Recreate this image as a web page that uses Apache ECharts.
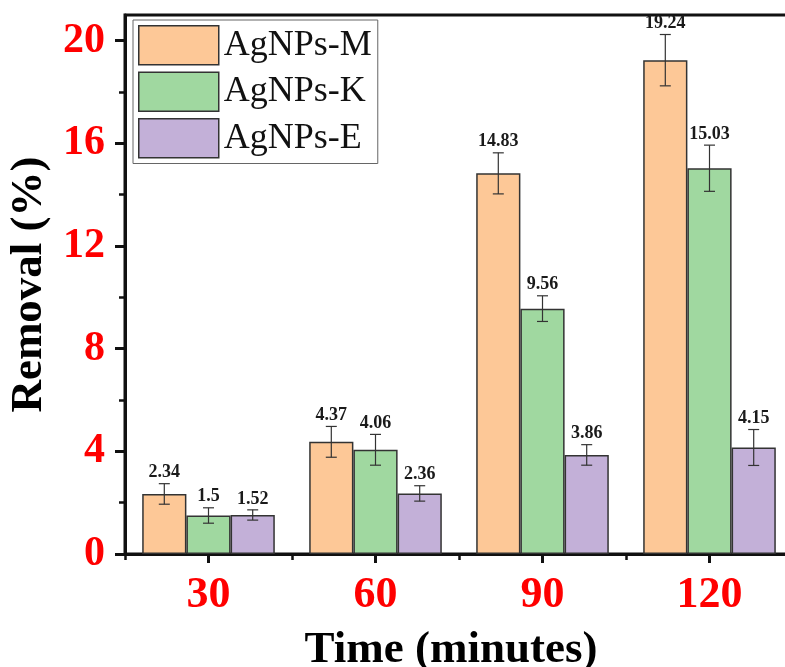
<!DOCTYPE html>
<html>
<head>
<meta charset="utf-8">
<script src="https://cdn.jsdelivr.net/npm/echarts@6/dist/echarts.min.js"></script>
<style>
html,body{margin:0;padding:0;background:#fff;}
#chart{width:785px;height:667px;}
</style>
</head>
<body>
<div id="chart"></div>
<script>
// ---- data ----
const categories = ['30', '60', '90', '120'];
const seriesNames = ['AgNPs-M', 'AgNPs-K', 'AgNPs-E'];
const valuesM = [2.34, 4.37, 14.83, 19.24];
const valuesK = [1.5, 4.06, 9.56, 15.03];
const valuesE = [1.52, 2.36, 3.86, 4.15];
const errorsM = [0.4, 0.6, 0.8, 1.0];
const errorsK = [0.3, 0.6, 0.5, 0.9];
const errorsE = [0.2, 0.3, 0.4, 0.7];
const yMajorTicks = [0, 4, 8, 12, 16, 20];
const yMinorTicks = [2, 6, 10, 14, 18];

const values = [valuesM, valuesK, valuesE];
const errors = [errorsM, errorsK, errorsE];
const colors = ['#FDC897', '#A0D8A0', '#C3B0D8'];
const CAT_GAP = 0.206;
const FONT = '"Liberation Serif", "Times New Roman", serif';

const chart = echarts.init(document.getElementById('chart'));

const barSeries = seriesNames.map((name, si) => ({
  name: name,
  type: 'bar',
  xAxisIndex: 0,
  yAxisIndex: 0,
  barGap: '0%',
  barCategoryGap: (CAT_GAP * 100) + '%',
  data: values[si],
  itemStyle: { color: colors[si], borderColor: '#333', borderWidth: 1.5 },
  emphasis: { disabled: true },
  z: 2
}));

const errSeries = seriesNames.map((name, si) => ({
  name: name + '-err',
  type: 'custom',
  xAxisIndex: 0,
  yAxisIndex: 0,
  data: values[si].map((v, i) => [i, v, errors[si][i]]),
  z: 5,
  silent: true,
  renderItem: function (params, api) {
    const ci = api.value(0), v = api.value(1), e = api.value(2);
    const c = api.coord([ci, v]);
    const bandW = api.size([1, 0])[0];
    const barW = bandW * (1 - CAT_GAP) / 3;
    const x = c[0] + (si - 1) * barW;
    const yTop = api.coord([ci, v + e])[1];
    const yBot = api.coord([ci, v - e])[1];
    const cap = 5.5;
    const ls = { stroke: '#333', lineWidth: 1.2 };
    return {
      type: 'group',
      children: [
        { type: 'line', shape: { x1: x, y1: yTop, x2: x, y2: yBot }, style: ls },
        { type: 'line', shape: { x1: x - cap, y1: yTop, x2: x + cap, y2: yTop }, style: ls },
        { type: 'line', shape: { x1: x - cap, y1: yBot, x2: x + cap, y2: yBot }, style: ls },
        { type: 'text', style: {
            text: String(v), x: x, y: yTop - 2,
            textAlign: 'center', textVerticalAlign: 'bottom',
            font: 'bold 18px ' + FONT, fill: '#1a1a1a'
          } }
      ]
    };
  }
}));

const option = {
  backgroundColor: '#fff',
  animation: false,
  grid: {
    left: 125, top: 15, width: 668, height: 539,
    containLabel: false,
    outerBoundsMode: 'none',
    show: true, borderColor: '#111', borderWidth: 3, backgroundColor: 'transparent'
  },
  legend: {
    data: seriesNames,
    orient: 'vertical',
    left: 133, top: 20,
    icon: 'rect',
    itemWidth: 80, itemHeight: 39, itemGap: 6,
    padding: [5, 6, 5, 5],
    borderColor: '#666', borderWidth: 1,
    backgroundColor: '#fff',
    textStyle: { fontFamily: FONT, fontSize: 36, lineHeight: 39, color: '#111', padding: [0, 0, 0, 0] },
    itemStyle: { borderColor: '#333', borderWidth: 1.5 },
    selectedMode: false
  },
  xAxis: [
    {
      type: 'category',
      data: categories,
      position: 'bottom',
      name: 'Time (minutes)',
      nameLocation: 'middle',
      nameGap: 74,
      nameTextStyle: { fontFamily: FONT, fontWeight: 'bold', fontSize: 45, color: '#000', padding: [0, 16, 0, 0] },
      axisLine: { show: true, lineStyle: { color: '#111', width: 3 } },
      axisTick: { show: true, alignWithLabel: true, length: 9, lineStyle: { color: '#111', width: 3 } },
      axisLabel: { margin: 20, fontFamily: FONT, fontWeight: 'bold', fontSize: 44, color: '#FF0000' },
      splitLine: { show: false }
    },
    {
      type: 'category',
      data: categories,
      position: 'bottom',
      axisLine: { show: false },
      axisTick: { show: true, interval: 0, length: 6, lineStyle: { color: '#111', width: 2.5 } },
      axisLabel: { show: false },
      splitLine: { show: false }
    }
  ],
  yAxis: [
    {
      type: 'value',
      min: 0, max: 21,
      position: 'left',
      name: 'Removal (%)',
      nameLocation: 'middle',
      nameGap: 62,
      nameTextStyle: { fontFamily: FONT, fontWeight: 'bold', fontSize: 45, color: '#000' },
      axisLine: { show: true, lineStyle: { color: '#111', width: 3 } },
      axisTick: { show: true, customValues: yMajorTicks, length: 10, lineStyle: { color: '#111', width: 3 } },
      axisLabel: { customValues: yMajorTicks, margin: 20, fontFamily: FONT, fontWeight: 'bold', fontSize: 42, color: '#FF0000' },
      splitLine: { show: false }
    },
    {
      type: 'value',
      min: 0, max: 21,
      position: 'left',
      axisLine: { show: false },
      axisTick: { show: true, customValues: yMinorTicks, length: 6, lineStyle: { color: '#111', width: 2.5 } },
      axisLabel: { show: false },
      splitLine: { show: false }
    }
  ],
  series: barSeries.concat(errSeries)
};

chart.setOption(option);
</script>
</body>
</html>
